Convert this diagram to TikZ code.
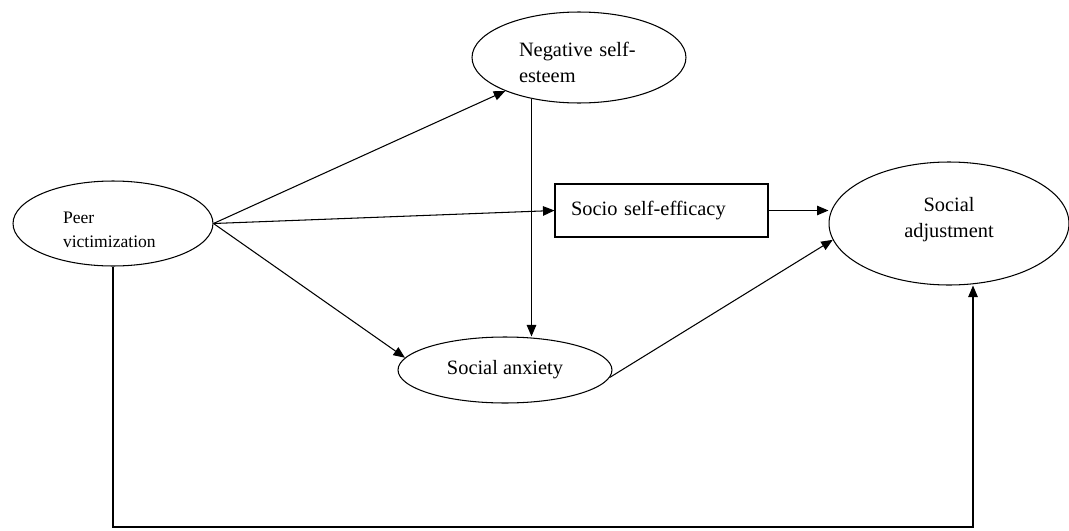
\documentclass[tikz,border=0pt]{standalone}
\usepackage{fontspec}
\setmainfont{Liberation Serif}
\usetikzlibrary{shapes.geometric,arrows.meta}

\begin{document}
\begin{tikzpicture}[x=0.02cm, y=-0.02cm, line width=0.6pt,
        oval/.style={ellipse, draw, inner sep=0pt},
        link/.style={-{Triangle[length=2.3mm, width=1.9mm]}}]
        \useasboundingbox (0,0) rectangle (1069,531);

        \node[oval, minimum width=4cm, minimum height=1.7cm, text width=2cm, align=left, text height=13.4pt,
            font=\fontsize{10}{13.6}\selectfont] (peer) at (113,223.5) {Peer\\victimization};
        \node[oval, minimum width=4.28cm, minimum height=1.82cm, text width=2.4cm, align=left, text height=14pt,
            font=\fontsize{11.6}{15}\selectfont] (neg) at (579,57.5) {Negative self-\\esteem};
        \node[draw, minimum width=4.26cm, minimum height=1.06cm, text width=3.62cm, inner xsep=0.32cm,
            align=left, font=\fontsize{11.6}{14}\selectfont] (sse) at (661.5,210.5) {Socio self-efficacy\\[2pt]};
        \node[oval, minimum width=4.8cm, minimum height=2.46cm, align=center,
            font=\fontsize{11.6}{15}\selectfont] (adj) at (949,223.5) {Social\\adjustment\\[-8pt]};
        \node[oval, minimum width=4.28cm, minimum height=1.32cm,
            font=\fontsize{11.6}{14}\selectfont] (anx) at (505,370) {Social anxiety};

        \coordinate (corner) at (973,527);

        \draw[link] (peer.east) -- (neg);
        \draw[link] (peer.east) -- (sse.west);
        \draw[link] (peer.east) -- (anx.173);
        \draw[link] (neg.221) -- (neg.221 |- anx.north);
        \draw[link] (sse.east) -- (sse.east -| adj.west);
        \draw[link] (anx.-4) -- (adj.188);
        \draw[link] (peer.south) |- (corner) -- (corner |- adj.south);

    \end{tikzpicture}
\end{document}
